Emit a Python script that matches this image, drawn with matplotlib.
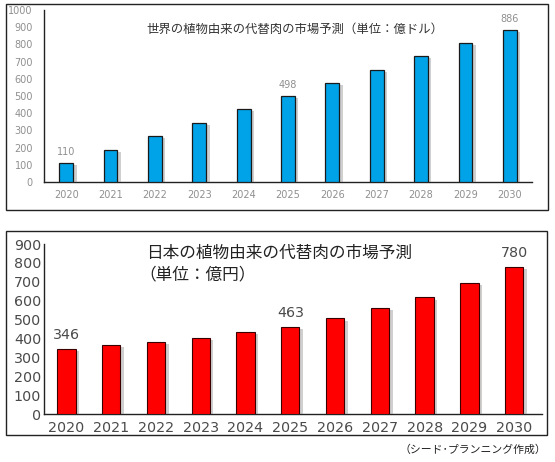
import matplotlib
matplotlib.use("Agg")
import matplotlib.pyplot as plt
import matplotlib.patheffects as pe
from matplotlib.patches import Rectangle
import numpy as np

years = ["2020", "2021", "2022", "2023", "2024", "2025",
         "2026", "2027", "2028", "2029", "2030"]
world = [110, 188, 266, 343, 422, 498, 575, 653, 731, 808, 886]
japan = [346, 365, 380, 402, 432, 463, 506, 559, 617, 692, 780]
world_labels = {0: "110", 5: "498", 10: "886"}
japan_labels = {0: "346", 5: "463", 10: "780"}

world_title = "世界の植物由来の代替肉の市場予測（単位：億ドル）"
japan_title = "日本の植物由来の代替肉の市場予測"
japan_unit = "（単位：億円）"
credit = "（シード･プランニング作成）"

JP = ["Noto Sans CJK JP", "DejaVu Sans"]
W, H = 555, 462

fig = plt.figure(figsize=(W / 100, H / 100), dpi=100)


def box(x0, y0, x1, y1):
    # pixel coords (top-left origin) -> figure fraction
    return [x0 / W, 1 - y1 / H, (x1 - x0) / W, (y1 - y0) / H]


# panel frames
for x0, y0, x1, y1 in [(6, 4, 548, 210), (6, 231, 547, 435)]:
    l, b, w, h = box(x0, y0, x1, y1)
    fig.add_artist(Rectangle((l, b), w, h, transform=fig.transFigure,
                             fill=False, edgecolor="#222222", linewidth=1.0))

shadow = [pe.SimplePatchShadow(offset=(2.5, -1.5), shadow_rgbFace="#888888", alpha=0.4),
          pe.Normal()]
x = np.arange(len(years))

############## top: world ##############
ax1 = fig.add_axes(box(44, 10, 532, 182))
ax1.bar(x, world, width=0.31, color="#00A3E8", edgecolor="#1a1a1a",
        linewidth=0.9, path_effects=shadow, zorder=3)
ax1.set_xlim(-0.5, 10.5)
ax1.set_ylim(0, 1000)
ax1.set_yticks(range(0, 1001, 100))
ax1.set_xticks(x)
ax1.set_xticklabels(years)
ax1.tick_params(length=0, labelsize=7, colors="#8f8f8f", pad=6)
ax1.tick_params(axis="y", pad=8)
for s in ["top", "right"]:
    ax1.spines[s].set_visible(False)
for s in ["left", "bottom"]:
    ax1.spines[s].set_color("#222222")
    ax1.spines[s].set_linewidth(1.0)
for i, t in world_labels.items():
    ax1.text(i, world[i] + 35, t, ha="center", va="bottom", fontsize=7, color="#8f8f8f")
ax1.text(146 / W, 1 - 29 / H, world_title, transform=fig.transFigure,
         ha="left", va="center", fontsize=8.9, color="#333333", family=JP)

############## bottom: japan ##############
ax2 = fig.add_axes(box(44, 244, 542, 414))
ax2.bar(x, japan, width=0.41, color="#FF0000", edgecolor="#3a0000",
        linewidth=0.8, path_effects=shadow, zorder=3)
ax2.set_xlim(-0.5, 10.62)
ax2.set_ylim(0, 900)
ax2.set_yticks(range(0, 901, 100))
ax2.set_xticks(x)
ax2.set_xticklabels(years)
ax2.tick_params(length=0, labelsize=10.3, colors="#4a4a4a", pad=5)
ax2.tick_params(axis="y", pad=2)
for s in ["top", "right"]:
    ax2.spines[s].set_visible(False)
for s in ["left", "bottom"]:
    ax2.spines[s].set_color("#222222")
    ax2.spines[s].set_linewidth(1.0)
for i, t in japan_labels.items():
    ax2.text(i, japan[i] + 35, t, ha="center", va="bottom", fontsize=10.3, color="#4a4a4a")
ax2.text(146 / W, 1 - 253 / H, japan_title, transform=fig.transFigure,
         ha="left", va="center", fontsize=12, color="#222222", family=JP)
ax2.text(139 / W, 1 - 275 / H, japan_unit, transform=fig.transFigure,
         ha="left", va="center", fontsize=12, color="#222222", family=JP)

fig.text(546 / W, 1 - 450 / H, credit, ha="right", va="center",
         fontsize=7.8, color="#222222", family=JP)

fig.savefig("out.png", dpi=100)
